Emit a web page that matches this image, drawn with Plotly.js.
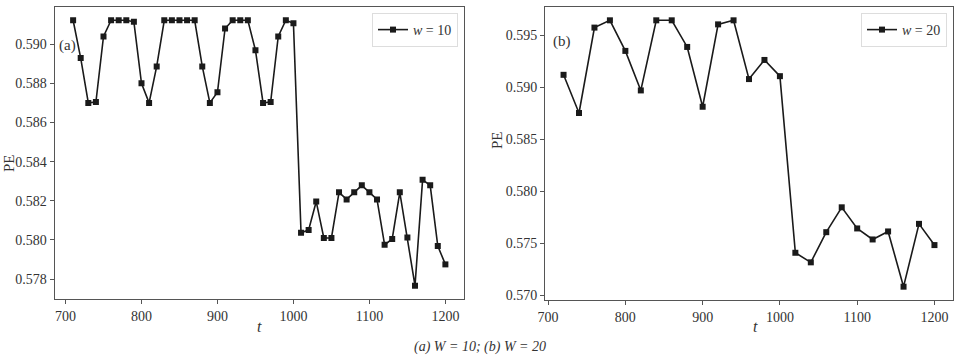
<!DOCTYPE html>
<html>
<head>
<meta charset="utf-8">
<script src="https://cdn.plot.ly/plotly-3.0.1.min.js"></script>
<style>
  html, body { margin: 0; padding: 0; background: #fff; }
  #chart { width: 962px; height: 356px; }
</style>
</head>
<body>
<div id="chart"></div>
<script>
// Panel (a): window size w = 10, t from 710 to 1200 in steps of 10
const tW10 = [710, 720, 730, 740, 750, 760, 770, 780, 790, 800,
              810, 820, 830, 840, 850, 860, 870, 880, 890, 900,
              910, 920, 930, 940, 950, 960, 970, 980, 990, 1000,
              1010, 1020, 1030, 1040, 1050, 1060, 1070, 1080, 1090, 1100,
              1110, 1120, 1130, 1140, 1150, 1160, 1170, 1180, 1190, 1200];
const peW10 = [0.59122, 0.58929, 0.58700, 0.58704, 0.59039, 0.59122, 0.59122, 0.59122, 0.59114, 0.58800,
               0.58700, 0.58886, 0.59122, 0.59122, 0.59122, 0.59122, 0.59122, 0.58886, 0.58700, 0.58754,
               0.59080, 0.59122, 0.59122, 0.59122, 0.58969, 0.58700, 0.58704, 0.59039, 0.59122, 0.59107,
               0.58036, 0.58051, 0.58196, 0.58010, 0.58010, 0.58243, 0.58207, 0.58243, 0.58279, 0.58243,
               0.58207, 0.57975, 0.58005, 0.58243, 0.58012, 0.57766, 0.58307, 0.58279, 0.57969, 0.57875];

// Panel (b): window size w = 20, t from 720 to 1200 in steps of 20
const tW20 = [720, 740, 760, 780, 800, 820, 840, 860, 880, 900,
              920, 940, 960, 980, 1000, 1020, 1040, 1060, 1080, 1100,
              1120, 1140, 1160, 1180, 1200];
const peW20 = [0.59121, 0.58754, 0.59575, 0.59645, 0.59351, 0.58971, 0.59645, 0.59645, 0.59389, 0.58814,
               0.59606, 0.59645, 0.59080, 0.59264, 0.59108, 0.57410, 0.57318, 0.57608, 0.57847, 0.57644,
               0.57538, 0.57615, 0.57084, 0.57688, 0.57484];

const xTicks = [700, 800, 900, 1000, 1100, 1200];
const yTicksA = [0.578, 0.580, 0.582, 0.584, 0.586, 0.588, 0.590];
const yTicksB = [0.570, 0.575, 0.580, 0.585, 0.590, 0.595];

const legendA = '<i>w</i> = 10';
const legendB = '<i>w</i> = 20';
const captionText = '<i>(a) W = 10; (b) W = 20</i>';

// Matplotlib-style 5% padding around the data
function padded(vals) {
  const lo = Math.min(...vals), hi = Math.max(...vals);
  const m = (hi - lo) * 0.05;
  return [lo - m, hi + m];
}

const W = 962, H = 356;
const px = v => v / W;
const py = v => 1 - v / H;

const FONT = '"Liberation Serif", "DejaVu Serif", serif';
const INK = '#1a1a1a';
const FRAME = '#555';

const lineStyle = { color: INK, width: 1.6 };
const markerStyle = { symbol: 'square', size: 6, color: INK };

const traces = [
  { x: tW10, y: peW10, xaxis: 'x', yaxis: 'y', mode: 'lines+markers', showlegend: true,
    name: legendA, line: lineStyle, marker: markerStyle, legend: 'legend' },
  { x: tW20, y: peW20, xaxis: 'x2', yaxis: 'y2', mode: 'lines+markers', showlegend: true,
    name: legendB, line: lineStyle, marker: markerStyle, legend: 'legend2' }
];

const axisCommon = {
  showgrid: false, zeroline: false,
  showline: true, mirror: true, linecolor: FRAME, linewidth: 1,
  ticks: 'outside', ticklen: 4, tickcolor: FRAME, tickwidth: 1,
  tickfont: { family: FONT, size: 14, color: '#333' }
};

const legendCommon = {
  visible: true,
  bgcolor: 'rgba(255,255,255,0.9)', bordercolor: '#ddd', borderwidth: 1,
  font: { family: FONT, size: 14, color: '#333' },
  xanchor: 'right', yanchor: 'top', itemwidth: 30
};

const layout = {
  width: W, height: H,
  showlegend: true,
  margin: { l: 0, r: 0, t: 0, b: 0 },
  paper_bgcolor: '#fff', plot_bgcolor: '#fff',
  font: { family: FONT, color: '#333' },
  xaxis: Object.assign({}, axisCommon, {
    domain: [px(54.5), px(464)], range: padded(tW10), tickvals: xTicks, anchor: 'y'
  }),
  yaxis: Object.assign({}, axisCommon, {
    domain: [py(299), py(7)], range: padded(peW10), tickvals: yTicksA,
    tickformat: '.3f', anchor: 'x'
  }),
  xaxis2: Object.assign({}, axisCommon, {
    domain: [px(545), px(953)], range: padded(tW20), tickvals: xTicks, anchor: 'y2'
  }),
  yaxis2: Object.assign({}, axisCommon, {
    domain: [py(300), py(7)], range: padded(peW20), tickvals: yTicksB,
    tickformat: '.3f', anchor: 'x2'
  }),
  legend: Object.assign({}, legendCommon, { x: px(458), y: py(13) }),
  legend2: Object.assign({}, legendCommon, { x: px(947), y: py(13) }),
  annotations: [
    { text: '(a)', xref: 'paper', yref: 'paper', x: px(57), y: py(45),
      xanchor: 'left', yanchor: 'middle', showarrow: false,
      font: { family: FONT, size: 15, color: '#333' } },
    { text: '(b)', xref: 'paper', yref: 'paper', x: px(551), y: py(42),
      xanchor: 'left', yanchor: 'middle', showarrow: false,
      font: { family: FONT, size: 15, color: '#333' } },
    { text: 'PE', xref: 'paper', yref: 'paper', x: px(9), y: py(163),
      xanchor: 'center', yanchor: 'middle', textangle: -90, showarrow: false,
      font: { family: FONT, size: 15, color: '#333' } },
    { text: 'PE', xref: 'paper', yref: 'paper', x: px(497), y: py(140),
      xanchor: 'center', yanchor: 'middle', textangle: -90, showarrow: false,
      font: { family: FONT, size: 15, color: '#333' } },
    { text: '<i>t</i>', xref: 'paper', yref: 'paper', x: px(259), y: py(326),
      xanchor: 'center', yanchor: 'middle', showarrow: false,
      font: { family: FONT, size: 16, color: '#333' } },
    { text: '<i>t</i>', xref: 'paper', yref: 'paper', x: px(755), y: py(326),
      xanchor: 'center', yanchor: 'middle', showarrow: false,
      font: { family: FONT, size: 16, color: '#333' } },
    { text: captionText, xref: 'paper', yref: 'paper', x: px(480), y: py(347),
      xanchor: 'center', yanchor: 'middle', showarrow: false,
      font: { family: FONT, size: 14, color: '#333' } }
  ]
};

Plotly.newPlot('chart', traces, layout, { staticPlot: true, displayModeBar: false });
</script>
</body>
</html>
